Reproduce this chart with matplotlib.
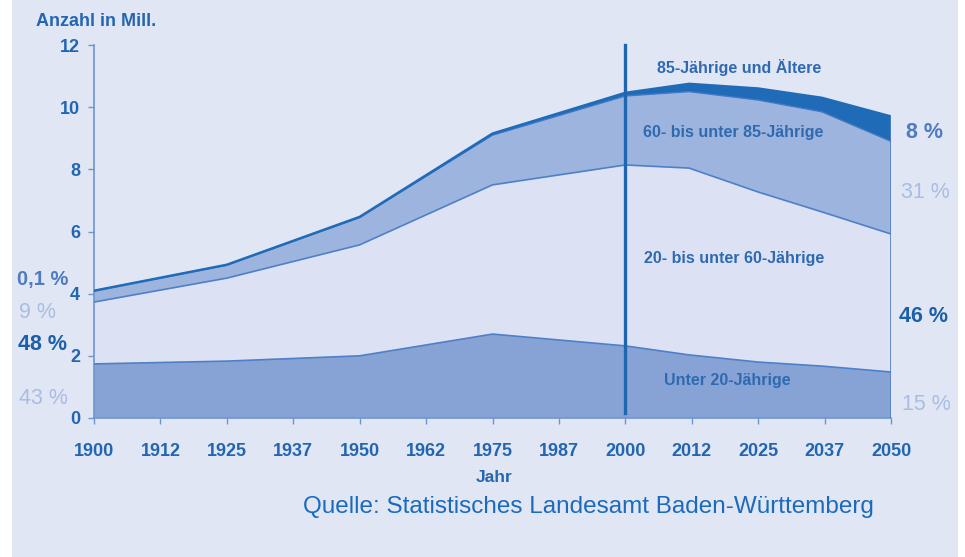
import matplotlib
matplotlib.use("Agg")
import matplotlib.pyplot as plt
import numpy as np
from matplotlib.patches import Rectangle

plt.rcParams['font.family'] = ['Liberation Sans', 'DejaVu Sans']

# ---- data (millions) ----
years = [1900, 1925, 1950, 1975, 2000, 2012, 2025, 2037, 2050]
unter20 = [1.74, 1.83, 2.00, 2.70, 2.32, 2.03, 1.80, 1.67, 1.48]
age20_60 = [1.99, 2.67, 3.57, 4.80, 5.82, 6.01, 5.47, 4.96, 4.44]
age60_85 = [0.36, 0.42, 0.88, 1.60, 2.22, 2.46, 2.96, 3.22, 2.98]
age85plus = [0.004, 0.01, 0.02, 0.05, 0.10, 0.25, 0.37, 0.45, 0.80]

xtick_years = [1900, 1912, 1925, 1937, 1950, 1962, 1975, 1987, 2000, 2012, 2025, 2037, 2050]
xtick_pos = [1900 + 12.5 * i for i in range(13)]
yticks = [0, 2, 4, 6, 8, 10, 12]

left_pct = ["0,1 %", "9 %", "48 %", "43 %"]
right_pct = ["8 %", "31 %", "46 %", "15 %"]
group_labels = ["85-Jährige und Ältere", "60- bis unter 85-Jährige",
                "20- bis unter 60-Jährige", "Unter 20-Jährige"]

BG = '#e1e6f4'
C_U20 = '#87a3d6'
C_2060 = '#dce2f3'
C_6085 = '#9db4de'
C_85 = '#1f6bb8'
EDGE = '#4d80c8'
DARK = '#1f66b0'
LIGHT_TXT = '#a9bde2'
MID_TXT = '#4f7cbf'

fig = plt.figure(figsize=(9.65, 5.57), dpi=100)
fig.patch.set_facecolor('white')
fig.add_artist(Rectangle((12 / 965, 0), (958 - 12) / 965, 1, transform=fig.transFigure,
                         facecolor=BG, edgecolor='none', zorder=0))

ax = fig.add_axes([94 / 965, 1 - 418 / 557, (891 - 94) / 965, (418 - 45) / 557])
ax.set_facecolor('none')

y = np.array(years, dtype=float)
s1 = np.array(unter20)
s2 = s1 + np.array(age20_60)
s3 = s2 + np.array(age60_85)
s4 = s3 + np.array(age85plus)

ax.fill_between(y, 0, s1, facecolor=C_U20, edgecolor='none', zorder=2)
ax.fill_between(y, s1, s2, facecolor=C_2060, edgecolor='none', zorder=2)
ax.fill_between(y, s2, s3, facecolor=C_6085, edgecolor='none', zorder=2)
ax.fill_between(y, s3, s4, facecolor=C_85, edgecolor='none', zorder=2)
ax.plot(y, s1, color=EDGE, lw=1.2, zorder=3)
ax.plot(y, s2, color=EDGE, lw=1.2, zorder=3)
ax.plot(y, s3, color='#3f78c4', lw=1.0, zorder=3)
ax.plot(y, s4, color=C_85, lw=1.8, zorder=3)
ax.plot([2050, 2050], [0, s4[-1]], color=EDGE, lw=1.2, zorder=3)

# vertical marker at 2000
ax.plot([2000, 2000], [0.15, 12.0], color='#1e66b0', lw=2.4, zorder=4, clip_on=False)

ax.set_xlim(1900, 2050)
ax.set_ylim(0, 12)
for s in ['top', 'right']:
    ax.spines[s].set_visible(False)
for s in ['left', 'bottom']:
    ax.spines[s].set_color('#6f95d0')
    ax.spines[s].set_linewidth(1.2)
ax.set_xticks(xtick_pos)
ax.set_xticklabels([str(v) for v in xtick_years])
ax.set_yticks(yticks)
ax.tick_params(axis='both', colors='#6f95d0', length=4, width=1.0, direction='out')
ax.tick_params(axis='x', labelcolor='#2266b2', labelsize=13, pad=14)
ax.tick_params(axis='y', labelcolor='#2266b2', labelsize=13, pad=6)
for lbl in ax.get_xticklabels() + ax.get_yticklabels():
    lbl.set_fontweight('bold')

fig.text(36 / 965, 1 - 22 / 557, "Anzahl in Mill.", color='#2466b0', fontsize=13,
         fontweight='bold', va='center', ha='left')
fig.text(494 / 965, 1 - 478 / 557, "Jahr", color='#2466b0', fontsize=12.5,
         fontweight='bold', va='center', ha='center')
fig.text(303 / 965, 1 - 507 / 557, "Quelle: Statistisches Landesamt Baden-Württemberg",
         color='#1a6bbd', fontsize=17.5, va='center', ha='left')

# left percentages
lcols = [MID_TXT, LIGHT_TXT, '#1a5fa8', LIGHT_TXT]
lweights = ['bold', 'normal', 'bold', 'normal']
lys = [280, 313, 344, 399]
lxs = [17, 19, 18, 19]
lsizes = [14.5, 15.5, 15.5, 15.5]
for t, c, w, yy, xx, fs in zip(left_pct, lcols, lweights, lys, lxs, lsizes):
    fig.text(xx / 965, 1 - yy / 557, t, color=c, fontsize=fs, fontweight=w,
             va='center', ha='left')

# right percentages
rcols = [MID_TXT, LIGHT_TXT, '#1a5fa8', LIGHT_TXT]
rweights = ['bold', 'normal', 'bold', 'normal']
rys = [133, 193, 316, 405]
rxs = [906, 901, 899, 902]
for t, c, w, yy, xx in zip(right_pct, rcols, rweights, rys, rxs):
    fig.text(xx / 965, 1 - yy / 557, t, color=c, fontsize=15.5, fontweight=w,
             va='center', ha='left')

# group labels
gys = [67, 133, 258, 381]
gxs = [739, 733, 734, 727]
for t, gx, gy in zip(group_labels, gxs, gys):
    fig.text(gx / 965, 1 - gy / 557, t, color='#2f6ab0', fontsize=11.5,
             fontweight='bold', va='center', ha='center')

fig.savefig('out.png', dpi=100, facecolor=fig.get_facecolor())
